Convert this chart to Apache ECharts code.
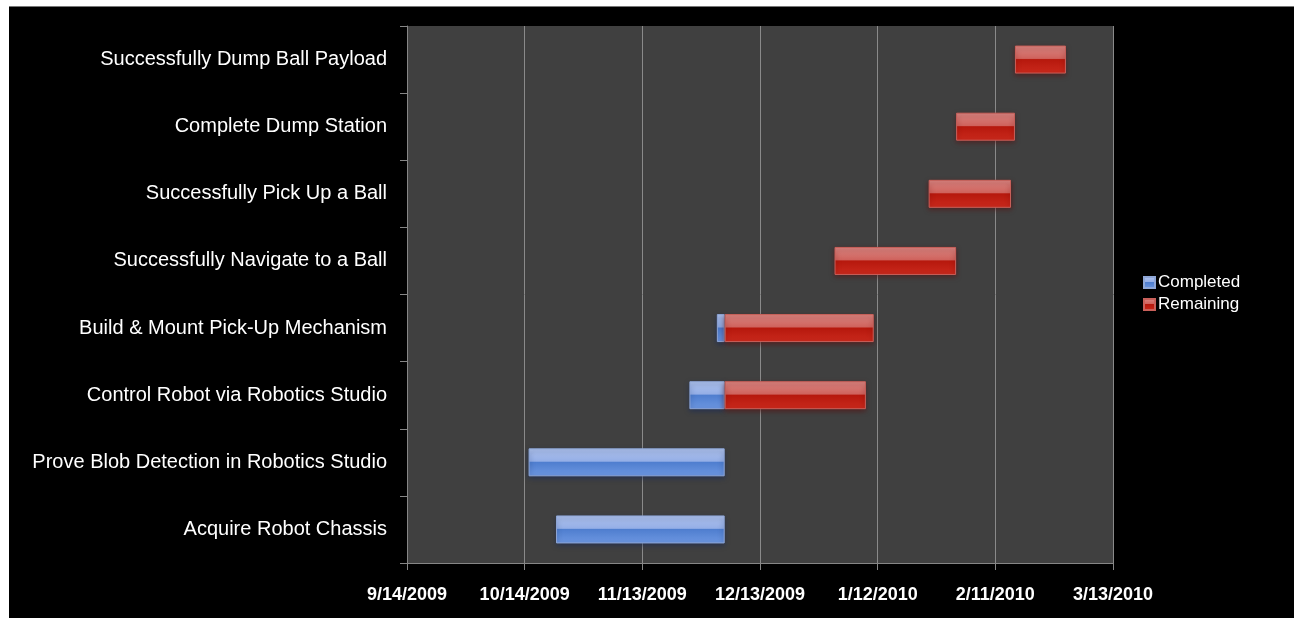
<!DOCTYPE html>
<html>
<head>
<meta charset="utf-8">
<script src="https://cdn.jsdelivr.net/npm/echarts@6/dist/echarts.min.js"></script>
<style>
html,body{margin:0;padding:0;background:#000000;width:1294px;height:618px;overflow:hidden;}
#topw{position:absolute;left:0;top:0;width:1294px;height:6px;background:#ffffff;border-bottom:1px solid #777;}
#leftw{position:absolute;left:0;top:0;width:9px;height:618px;background:#ffffff;}
#chart{position:absolute;left:9px;top:6px;width:1285px;height:612px;}
</style>
</head>
<body>
<div id="topw"></div><div id="leftw"></div>
<div id="chart"></div>
<script>
// Tasks, bottom to top
var categories = [
  'Acquire Robot Chassis',
  'Prove Blob Detection in Robotics Studio',
  'Control Robot via Robotics Studio',
  'Build & Mount Pick-Up Mechanism',
  'Successfully Navigate to a Ball',
  'Successfully Pick Up a Ball',
  'Complete Dump Station',
  'Successfully Dump Ball Payload'
];
// days after 9/14/2009
var startDays = [38, 31, 72, 79, 109, 133, 140, 155];
var completedDays = [43, 50, 9, 2, 0, 0, 0, 0];
var remainingDays = [0, 0, 36, 38, 31, 21, 15, 13];
var tickLabels = ['9/14/2009', '10/14/2009', '11/13/2009', '12/13/2009', '1/12/2010', '2/11/2010', '3/13/2010'];

function nz(arr) { return arr.map(function (v) { return v === 0 ? '-' : v; }); }

function grad(c0, c1, c2, c3) {
  return new echarts.graphic.LinearGradient(0, 0, 0, 1, [
    {offset: 0, color: c0},
    {offset: 0.46, color: c1},
    {offset: 0.5, color: c2},
    {offset: 1, color: c3}
  ]);
}
var blue = grad('#b3c6ef', '#94aee6', '#4f7ecf', '#6e98e2');
var red = grad('#dc8a86', '#cf625c', '#b6180d', '#cb2a1d');

var chart = echarts.init(document.getElementById('chart'));
chart.setOption({
  backgroundColor: 'transparent',
  animation: false,
  grid: {left: 398, top: 20, right: 181, bottom: 55, show: true, backgroundColor: '#404040', borderWidth: 0},
  legend: {
    orient: 'vertical', left: 1129, top: 263,
    itemWidth: 11, itemHeight: 11, itemGap: 5,
    icon: 'rect',
    data: ['Completed', 'Remaining'],
    textStyle: {color: '#ffffff', fontFamily: 'Liberation Sans', fontSize: 17, padding: [0, 0, 0, -2]}
  },
  xAxis: {
    type: 'value', min: 0, max: 180, interval: 30,
    axisLine: {show: true, lineStyle: {color: '#868686', width: 1}},
    axisTick: {show: true, length: 7, lineStyle: {color: '#868686'}},
    splitLine: {show: true, lineStyle: {color: '#8a8a8a', width: 1}},
    axisLabel: {
      color: '#ffffff', fontFamily: 'Liberation Sans', fontWeight: 'bold', fontSize: 18, margin: 23,
      formatter: function (v) { return tickLabels[Math.round(v / 30)]; }
    }
  },
  yAxis: {
    type: 'category', data: categories,
    axisLine: {show: true, lineStyle: {color: '#868686', width: 1}},
    axisTick: {show: true, length: 7, interval: 0, lineStyle: {color: '#868686'}},
    axisLabel: {color: '#ffffff', fontFamily: 'Liberation Sans', fontSize: 20, margin: 20, interval: 0},
    splitLine: {show: false}
  },
  series: [
    {
      name: 'Start', type: 'bar', stack: 'g', data: startDays, barWidth: 28,
      itemStyle: {color: 'rgba(0,0,0,0)'}, silent: true
    },
    {
      name: 'Completed', type: 'bar', stack: 'g', data: nz(completedDays), barWidth: 28,
      itemStyle: {color: blue, borderColor: '#8ea6d6', borderWidth: 1, shadowBlur: 5, shadowColor: 'rgba(20,40,90,0.6)', shadowOffsetY: 2}
    },
    {
      name: 'Remaining', type: 'bar', stack: 'g', data: nz(remainingDays), barWidth: 28,
      itemStyle: {color: red, borderColor: '#c9605a', borderWidth: 1, shadowBlur: 5, shadowColor: 'rgba(90,10,10,0.6)', shadowOffsetY: 2}
    }
  ]
});
</script>
</body>
</html>
